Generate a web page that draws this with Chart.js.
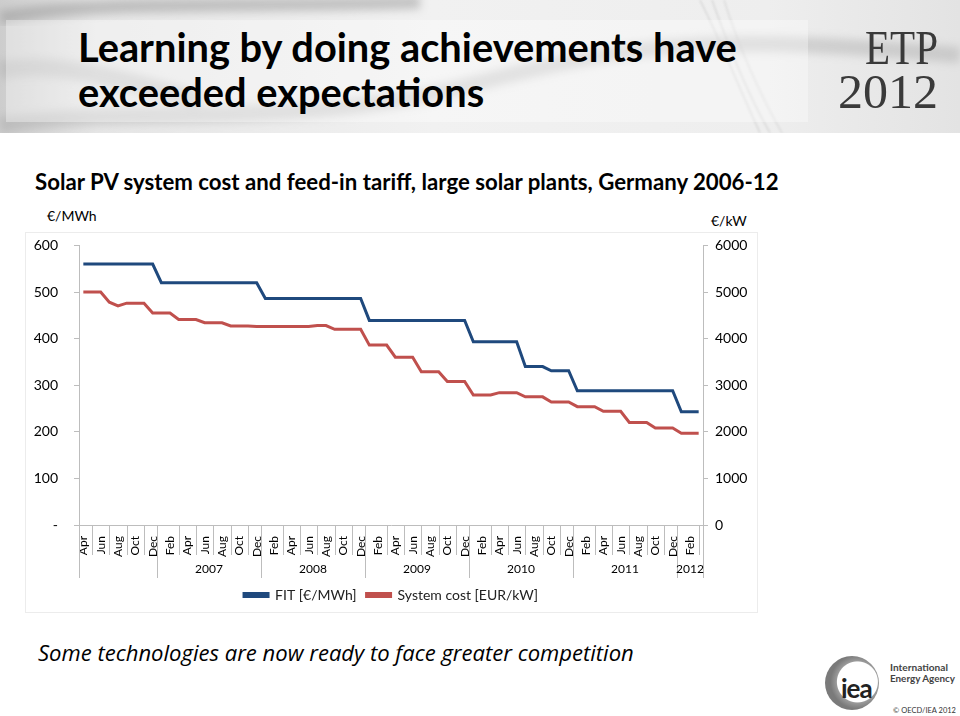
<!DOCTYPE html>
<html><head><meta charset="utf-8">
<script src="https://cdn.jsdelivr.net/npm/chart.js@4.4.1/dist/chart.umd.min.js"></script>
<style>
html,body{margin:0;padding:0;background:#fff;}
body{width:960px;height:716px;position:relative;overflow:hidden;font-family:Lato,sans-serif;}
#header{position:absolute;left:0;top:0;width:960px;height:133px;overflow:hidden;
 background:linear-gradient(90deg,#cdcdcd 0%,#e6e6e6 10%,#f1f1f1 45%,#eeeeee 80%,#e3e3e3 100%);}
#titlebox{position:absolute;left:6px;top:20px;width:802px;height:102px;background:rgba(255,255,255,0.35);}
.t{position:absolute;white-space:nowrap;line-height:1;}
#t1,#t2{left:78px;font-weight:700;color:#000;font-size:36px;}
#t1{top:27px;} #t2{top:72px;}
#etp,#y2012{font-family:"Liberation Serif",serif;color:#3a3a3a;font-size:48px;transform-origin:0 0;}
#etp{left:865px;top:24px;} #y2012{left:838px;top:68px;}
#sub{left:35px;top:171px;font-weight:700;font-size:20px;color:#000;}
#ul{left:47px;top:209px;font-size:14px;color:#000;}
#ur{left:711px;top:214px;font-size:14px;color:#000;}
#frame{position:absolute;left:25px;top:232px;width:731px;height:379px;border:1px solid #ececec;}
#cv{position:absolute;left:25px;top:221px;}
#bottom{left:38px;top:641px;font-family:"Open Sans",sans-serif;font-style:italic;font-size:20px;color:#000;}
#ring{position:absolute;left:825px;top:656px;width:54px;height:54px;border-radius:50%;
 background:radial-gradient(circle at 60% 48%,#fff 0,#fff 20px,#9a9a9a 21px,#7a7a7a 27px);}
#iea{left:841px;top:675px;font-weight:700;font-size:26px;color:#222;letter-spacing:-1px;}
#ia1,#ia2{left:890px;font-size:10px;font-weight:700;color:#444;}
#ia1{top:662px;} #ia2{top:674px;}
#copy{left:893px;top:707px;font-size:7.5px;color:#333;}
</style></head>
<body>
<div id="header">
 <svg width="960" height="133" style="position:absolute;left:0;top:0">
  <defs><filter id="b" x="-20%" y="-50%" width="140%" height="200%"><feGaussianBlur stdDeviation="4"/></filter>
  <filter id="b2"><feGaussianBlur stdDeviation="1.2"/></filter></defs>
  <path d="M0,18 C90,0 220,8 420,2" stroke="#8f8f8f" stroke-width="14" fill="none" opacity="0.45" filter="url(#b)"/>
  <path d="M0,125 C140,105 300,130 470,85 S 720,35 960,55" stroke="#9b9b9b" stroke-width="16" fill="none" opacity="0.35" filter="url(#b)"/>
  <path d="M0,70 C60,60 120,80 200,100" stroke="#a0a0a0" stroke-width="18" fill="none" opacity="0.35" filter="url(#b)"/>
  <path d="M700,0 C720,40 740,90 760,133" stroke="#b0b0b0" stroke-width="1" fill="none" opacity="0.6" filter="url(#b2)"/>
  <path d="M712,0 C728,45 748,95 770,133" stroke="#b0b0b0" stroke-width="1" fill="none" opacity="0.6" filter="url(#b2)"/>
  <path d="M724,0 C738,45 760,95 782,133" stroke="#b0b0b0" stroke-width="1" fill="none" opacity="0.5" filter="url(#b2)"/>
 </svg>
 <div id="titlebox"></div>
 <div class="t" id="t1" data-w="659">Learning by doing achievements have</div>
 <div class="t" id="t2">exceeded expectations</div>
 <div class="t" id="etp" data-sx="73">ETP</div>
 <div class="t" id="y2012" data-sx="100">2012</div>
</div>
<div class="t" id="sub" data-w="744">Solar PV system cost and feed-in tariff, large solar plants, Germany 2006-12</div>
<div class="t" id="ul">€/MWh</div>
<div class="t" id="ur">€/kW</div>
<div id="frame"></div>
<canvas id="cv" width="732" height="391"></canvas>
<div class="t" id="bottom" data-w="596">Some technologies are now ready to face greater competition</div>
<div id="ring"></div>
<div class="t" id="iea">iea</div>
<div class="t" id="ia1" data-w="58">International</div>
<div class="t" id="ia2" data-w="65">Energy Agency</div>
<div class="t" id="copy">© OECD/IEA 2012</div>
<script>
// ---- data ----
const categories = [
 'Apr','May','Jun','Jul','Aug','Sep','Oct','Nov','Dec',
 'Jan','Feb','Mar','Apr','May','Jun','Jul','Aug','Sep','Oct','Nov','Dec',
 'Jan','Feb','Mar','Apr','May','Jun','Jul','Aug','Sep','Oct','Nov','Dec',
 'Jan','Feb','Mar','Apr','May','Jun','Jul','Aug','Sep','Oct','Nov','Dec',
 'Jan','Feb','Mar','Apr','May','Jun','Jul','Aug','Sep','Oct','Nov','Dec',
 'Jan','Feb','Mar','Apr','May','Jun','Jul','Aug','Sep','Oct','Nov','Dec',
 'Jan','Feb','Mar'];
const yearLabels = ['', '2007', '2008', '2009', '2010', '2011', '2012'];
const yearStarts = [0, 9, 21, 33, 45, 57, 69];
const fitValues = [
 560,560,560,560,560,560,560,560,560,
 520,520,520,520,520,520,520,520,520,520,520,520,
 486,486,486,486,486,486,486,486,486,486,486,486,
 439,439,439,439,439,439,439,439,439,439,439,439,
 393,393,393,393,393,393,340,340,340,331,331,331,
 288,288,288,288,288,288,288,288,288,288,288,288,
 243,243,243];
const systemCost = [
 5000,5000,5000,4780,4700,4760,4760,4760,4550,
 4550,4550,4410,4410,4410,4340,4340,4340,4270,4270,4270,4260,
 4260,4260,4260,4260,4260,4260,4280,4280,4200,4200,4200,4200,
 3860,3860,3860,3600,3600,3600,3290,3290,3290,3080,3080,3080,
 2790,2790,2790,2840,2840,2840,2750,2750,2750,2640,2640,2640,
 2540,2540,2540,2440,2440,2440,2200,2200,2200,2080,2080,2080,
 1970,1970,1970];
const seriesNames = ['FIT [€/MWh]', 'System cost [EUR/kW]'];

// ---- text fitting ----
function fitText(){
 document.querySelectorAll('[data-w]').forEach(el=>{
  const w = el.getBoundingClientRect().width;
  const fs = parseFloat(getComputedStyle(el).fontSize);
  const nf = fs * (+el.dataset.w) / w;
  el.style.fontSize = nf + 'px';
  if (el.id === 't1') document.getElementById('t2').style.fontSize = nf + 'px';
 });
 document.querySelectorAll('[data-sx]').forEach(el=>{
  const w = el.getBoundingClientRect().width;
  el.style.transform = 'scaleX(' + ((+el.dataset.sx)/w) + ')';
 });
}

const axisColor = '#bdbdbd';
const groupPlugin = {
 id: 'groups',
 afterDraw(chart){
  const x = chart.scales.x, ctx = chart.ctx, area = chart.chartArea;
  const step = x.getPixelForValue(1) - x.getPixelForValue(0);
  const top = area.bottom;
  const bottom = x.bottom;
  const monthBottom = top + 30;
  ctx.save();
  ctx.strokeStyle = axisColor; ctx.lineWidth = 1;
  const vline = (px, y1, y2) => { const p = Math.round(px) + 0.5; ctx.beginPath(); ctx.moveTo(p, y1); ctx.lineTo(p, y2); ctx.stroke(); };
  // month-level separators between labelled months
  for (let i = 1; i < categories.length; i += 2) {
   const edgeNear = yearStarts.some(s => s > 0 && Math.abs(s - (i + 0.5)) < 1.1);
   if (edgeNear) continue;
   vline(x.getPixelForValue(i), top, monthBottom);
  }
  // year separators and labels
  ctx.fillStyle = '#000';
  ctx.font = '12px Lato';
  ctx.textAlign = 'center'; ctx.textBaseline = 'middle';
  for (let g = 0; g < yearStarts.length; g++) {
   const s = yearStarts[g];
   const e = g + 1 < yearStarts.length ? yearStarts[g + 1] : categories.length;
   const l = x.getPixelForValue(s) - step / 2;
   const r = x.getPixelForValue(e - 1) + step / 2;
   vline(l, top, bottom);
   if (g === yearStarts.length - 1) vline(r, top, bottom);
   if (yearLabels[g]) ctx.fillText(yearLabels[g], (l + r) / 2, bottom - 9);
  }
  // short extension of the category axis to the left of the value axis
  ctx.beginPath(); ctx.moveTo(area.left - 5, Math.round(top) + 0.5); ctx.lineTo(area.left, Math.round(top) + 0.5); ctx.stroke();
  ctx.restore();
 }
};

function draw(){
 Chart.defaults.font.family = 'Lato';
 new Chart(document.getElementById('cv'), {
  type: 'line',
  data: {
   labels: categories,
   datasets: [
    {label: seriesNames[0], data: fitValues, yAxisID: 'y', borderColor: '#1F497D', backgroundColor: '#1F497D', borderWidth: 3, pointRadius: 0, tension: 0},
    {label: seriesNames[1], data: systemCost, yAxisID: 'y2', borderColor: '#C0504D', backgroundColor: '#C0504D', borderWidth: 3, pointRadius: 0, tension: 0}
   ]
  },
  options: {
   responsive: false, animation: false, devicePixelRatio: 1,
   layout: {padding: {top: 0, left: 0, right: 0, bottom: 0}},
   plugins: {
    legend: {position: 'bottom', labels: {boxWidth: 24, boxHeight: 3, padding: 10, color: '#222', font: {size: 14, family: 'Lato'}}},
    tooltip: {enabled: false}
   },
   scales: {
    x: {
     offset: true,
     grid: {display: false},
     border: {display: true, color: axisColor},
     ticks: {autoSkip: false, minRotation: 90, maxRotation: 90, padding: 3, color: '#000', font: {size: 12},
      callback: (v, i) => i % 2 === 0 ? categories[i] : ''},
     afterFit: s => { s.height = 53; }
    },
    y: {
     position: 'left', min: 0, max: 600,
     grid: {drawOnChartArea: false, drawTicks: true, tickLength: 5, color: axisColor},
     border: {display: true, color: axisColor},
     ticks: {stepSize: 100, padding: 16, color: '#000', font: {size: 14}, callback: v => v === 0 ? '-' : String(v)},
     afterFit: s => { s.width = 54; }
    },
    y2: {
     position: 'right', min: 0, max: 6000,
     grid: {drawOnChartArea: false, drawTicks: true, tickLength: 5, color: axisColor},
     border: {display: true, color: axisColor},
     ticks: {stepSize: 1000, padding: 7, color: '#000', font: {size: 14}, callback: v => String(v)},
     afterFit: s => { s.width = 54; }
    }
   }
  },
  plugins: [groupPlugin]
 });
}
fitText();
draw();
</script>
</body></html>
